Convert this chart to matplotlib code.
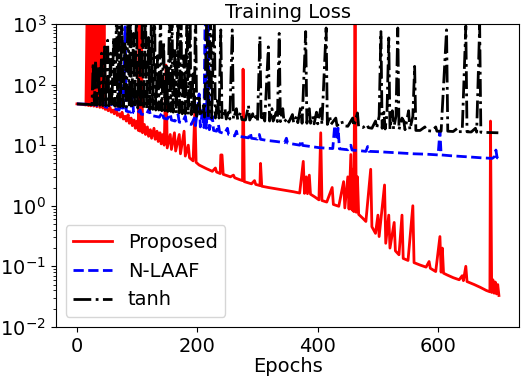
import matplotlib as mpl
import matplotlib.pyplot as plt

mpl.rcParams['font.size'] = 14

# ----- Data -----
# (epoch, loss); values above 1e3 leave the top of the plot
proposed = [
    (0, 48), (10, 47), (15, 46), (17, 2000), (19, 45), (21, 2000), (23, 44.5), (26, 2000), (28, 44),
    (31, 2000), (33, 43), (36, 2000), (38, 42), (41, 2000), (43, 41), (45, 2000), (47, 39), (50, 40),
    (52, 37), (55, 42), (57, 35), (60, 38), (62, 33), (65, 40), (67, 31), (70, 33), (72, 29), (75, 35),
    (77, 27), (80, 30), (82, 25), (85, 32), (87, 23), (90, 28), (92, 21), (95, 26), (97, 19), (100, 25),
    (102, 17.5), (103, 2000), (105, 17), (107, 2000), (109, 16), (112, 22), (114, 15), (117, 20),
    (119, 14), (122, 18), (124, 13), (128, 19), (130, 12.5), (133, 17), (135, 11.5), (138, 16),
    (140, 10.5), (143, 15), (145, 10), (148, 210), (150, 9), (155, 15), (157, 8.5), (162, 16), (164, 8),
    (170, 15), (172, 7.2), (178, 17), (180, 6.6), (185, 10), (187, 6.2), (193, 5.5), (196, 40),
    (198, 5.2), (203, 4.7), (215, 4.1), (225, 3.7), (230, 4.2), (232, 3.6), (238, 3.4), (239, 6.9),
    (241, 6.9), (243, 3.3), (255, 3.0), (260, 3.2), (262, 2.9), (270, 2.7), (275, 2.6), (276, 180),
    (278, 2.5), (290, 2.3), (295, 2.6), (297, 2.25), (304, 2.15), (305, 5), (307, 2.1), (318, 2.0),
    (331, 1.9), (345, 1.8), (360, 1.7), (370, 1.62), (376, 5.4), (378, 1.6), (381, 3), (383, 1.58),
    (386, 3.2), (388, 1.55), (395, 1.4), (402, 1.25), (405, 16), (407, 1.22), (415, 1.15), (424, 2),
    (426, 1.05), (435, 0.98), (443, 2.5), (445, 0.92), (450, 3), (452, 0.88), (455, 7), (457, 0.85),
    (458, 4), (460, 0.8), (462, 2000), (464, 0.78), (466, 3), (468, 0.72), (475, 0.62), (480, 0.55),
    (488, 4), (490, 0.45), (496, 0.35), (500, 0.7), (502, 0.31), (511, 2.2), (513, 0.24), (518, 0.7),
    (520, 0.2), (527, 0.53), (529, 0.18), (535, 0.155), (540, 0.7), (542, 0.135), (550, 0.125),
    (558, 1.0), (560, 0.115), (570, 0.105), (580, 0.097), (585, 0.12), (587, 0.093), (596, 0.082),
    (603, 0.31), (605, 0.08), (607, 0.2), (609, 0.077), (615, 0.072), (625, 0.065), (635, 0.06),
    (640, 0.07), (642, 0.058), (646, 0.1), (648, 0.056), (660, 0.05), (670, 0.045), (680, 0.04),
    (686, 0.038), (687, 25), (689, 0.037), (691, 0.06), (693, 0.036), (695, 0.055), (697, 0.035),
    (699, 0.05), (701, 0.033),
]

nlaaf = [
    (0, 48), (15, 47.5), (25, 46), (30, 52), (32, 45.5), (40, 44), (45, 50), (47, 43), (55, 41),
    (60, 55), (62, 40), (70, 38), (72, 230), (74, 37.5), (77, 37), (80, 900), (82, 36.5), (84, 36),
    (90, 35), (92, 80), (94, 34.5), (97, 34), (100, 33), (105, 38), (107, 32.5), (115, 31.5), (120, 40),
    (122, 31), (130, 30), (137, 29), (142, 35), (144, 28), (150, 27), (155, 33), (157, 26), (163, 25),
    (168, 32), (170, 24), (175, 23.5), (180, 30), (182, 23), (190, 22), (195, 28), (197, 21), (203, 70),
    (205, 20), (209, 40), (211, 19.5), (213, 2000), (215, 19), (218, 2000), (220, 18), (225, 30),
    (227, 17.5), (232, 17), (235, 22), (237, 16.5), (245, 15.5), (250, 19), (252, 15), (262, 14.2),
    (265, 17), (267, 14), (275, 13.7), (285, 13.2), (288, 16), (290, 13), (300, 12.6), (303, 15),
    (305, 12.5), (315, 12), (331, 11.5), (345, 11), (348, 13), (350, 10.8), (360, 10.4), (370, 10),
    (373, 12), (375, 9.9), (385, 9.6), (402, 9.1), (415, 8.9), (425, 8.8), (428, 20), (430, 21),
    (432, 12), (434, 19), (436, 8.7), (445, 8.5), (450, 8.4), (455, 10), (457, 8.3), (470, 8.1),
    (480, 7.9), (483, 9.5), (485, 7.9), (500, 7.8), (520, 7.6), (540, 7.4), (560, 7.2), (580, 7.1),
    (600, 6.9), (603, 17), (605, 6.9), (620, 6.7), (640, 6.5), (651, 6.4), (670, 6.2), (690, 6.05),
    (694, 6.5), (696, 8.3), (698, 6.2), (700, 6.0),
]

tanh = [
    (0, 48), (10, 47.5), (20, 47), (25, 46.5), (27, 230), (28, 90), (29, 46), (31, 250), (32, 120),
    (33, 46), (36, 200), (37, 100), (38, 45.5), (41, 330), (42, 150), (43, 45), (46, 420), (47, 110),
    (48, 45), (51, 540), (52, 180), (53, 44.5), (56, 330), (57, 130), (58, 44), (61, 600), (62, 200),
    (63, 44), (66, 2000), (67, 160), (68, 43.5), (70, 900), (71, 250), (72, 43), (75, 2000), (76, 120),
    (77, 43), (80, 500), (81, 150), (82, 42.5), (85, 2000), (86, 200), (87, 42), (89, 2000), (90, 130),
    (91, 42), (94, 700), (95, 180), (96, 41.5), (99, 2000), (100, 110), (101, 41), (104, 400),
    (105, 160), (106, 41), (109, 2000), (110, 120), (111, 40), (114, 2000), (115, 140), (116, 40),
    (119, 600), (120, 200), (121, 39), (124, 2000), (125, 100), (126, 39), (129, 2000), (130, 150),
    (131, 38), (134, 300), (135, 120), (136, 38), (139, 2000), (140, 90), (141, 37), (144, 500),
    (145, 160), (146, 37), (149, 200), (150, 80), (151, 36), (154, 2000), (155, 110), (156, 36),
    (158, 2000), (159, 90), (160, 35), (163, 400), (164, 130), (165, 34), (168, 2000), (169, 100),
    (170, 34), (173, 2000), (174, 80), (175, 33), (178, 300), (179, 110), (180, 33), (183, 2000),
    (184, 90), (185, 32), (188, 2000), (189, 70), (190, 32), (193, 150), (195, 31), (197, 2000),
    (199, 30), (203, 60), (205, 30), (210, 45), (212, 29), (216, 2000), (218, 29), (222, 2000),
    (224, 28), (228, 2000), (230, 28), (234, 60), (236, 28), (239, 800), (241, 27), (246, 40),
    (248, 27), (252, 35), (254, 27), (258, 800), (260, 27), (265, 40), (267, 26.5), (272, 35),
    (274, 26.5), (280, 26), (285, 45), (287, 26), (292, 33), (294, 26), (298, 30), (300, 25.5),
    (304, 620), (306, 25.5), (310, 35), (312, 25), (318, 420), (320, 25), (324, 40), (326, 25),
    (331, 35), (333, 24.5), (336, 700), (338, 24.5), (342, 40), (344, 24), (350, 28), (352, 24),
    (358, 32), (360, 23.5), (365, 30), (367, 23.5), (372, 45), (374, 23), (380, 750), (382, 23),
    (386, 40), (388, 23), (392, 30), (394, 22.5), (398, 35), (400, 22.5), (405, 40), (407, 22),
    (414, 860), (416, 22), (420, 30), (422, 22), (430, 28), (432, 21), (440, 25), (442, 21), (450, 20.5),
    (458, 28), (460, 20.5), (466, 34), (468, 20), (475, 19.5), (482, 22), (484, 19.5), (490, 19),
    (496, 25), (498, 19), (502, 30), (505, 750), (507, 19), (510, 35), (512, 18.5), (515, 32),
    (518, 590), (520, 18.5), (524, 37), (526, 18.5), (530, 30), (533, 860), (535, 18), (540, 28),
    (543, 25), (545, 18), (551, 37), (553, 18), (558, 30), (561, 200), (563, 17.5), (570, 17.5),
    (578, 20), (580, 17.5), (590, 17), (596, 20), (598, 17), (605, 17), (614, 800), (616, 17),
    (625, 16.8), (632, 19), (634, 16.7), (640, 16.7), (646, 930), (648, 16.6), (655, 16.5), (662, 19),
    (664, 16.4), (669, 960), (671, 16.3), (680, 16.2), (690, 16.1), (700, 16),
]

# ----- Plot -----
fig = plt.figure(figsize=(5.22, 3.81), dpi=100)
ax = fig.add_axes([0.107, 0.142, 0.888, 0.795])

ep, loss = zip(*proposed)
ax.plot(ep, loss, color="red", linestyle="-", linewidth=2, label="Proposed")
ep, loss = zip(*nlaaf)
ax.plot(ep, loss, color="blue", linestyle="--", linewidth=2, label="N-LAAF")
ep, loss = zip(*tanh)
ax.plot(ep, loss, color="black", linestyle="-.", linewidth=2, label="tanh")

ax.set_yscale("log")
ax.set_ylim(1e-2, 1e3)
ax.set_xlim(-35, 735)
ax.set_xticks([0, 200, 400, 600])
ax.set_xlabel("Epochs", labelpad=1)
ax.set_title("Training Loss", fontsize=14, pad=4)
ax.legend(loc="lower left")

plt.savefig("out.png", dpi=100)
